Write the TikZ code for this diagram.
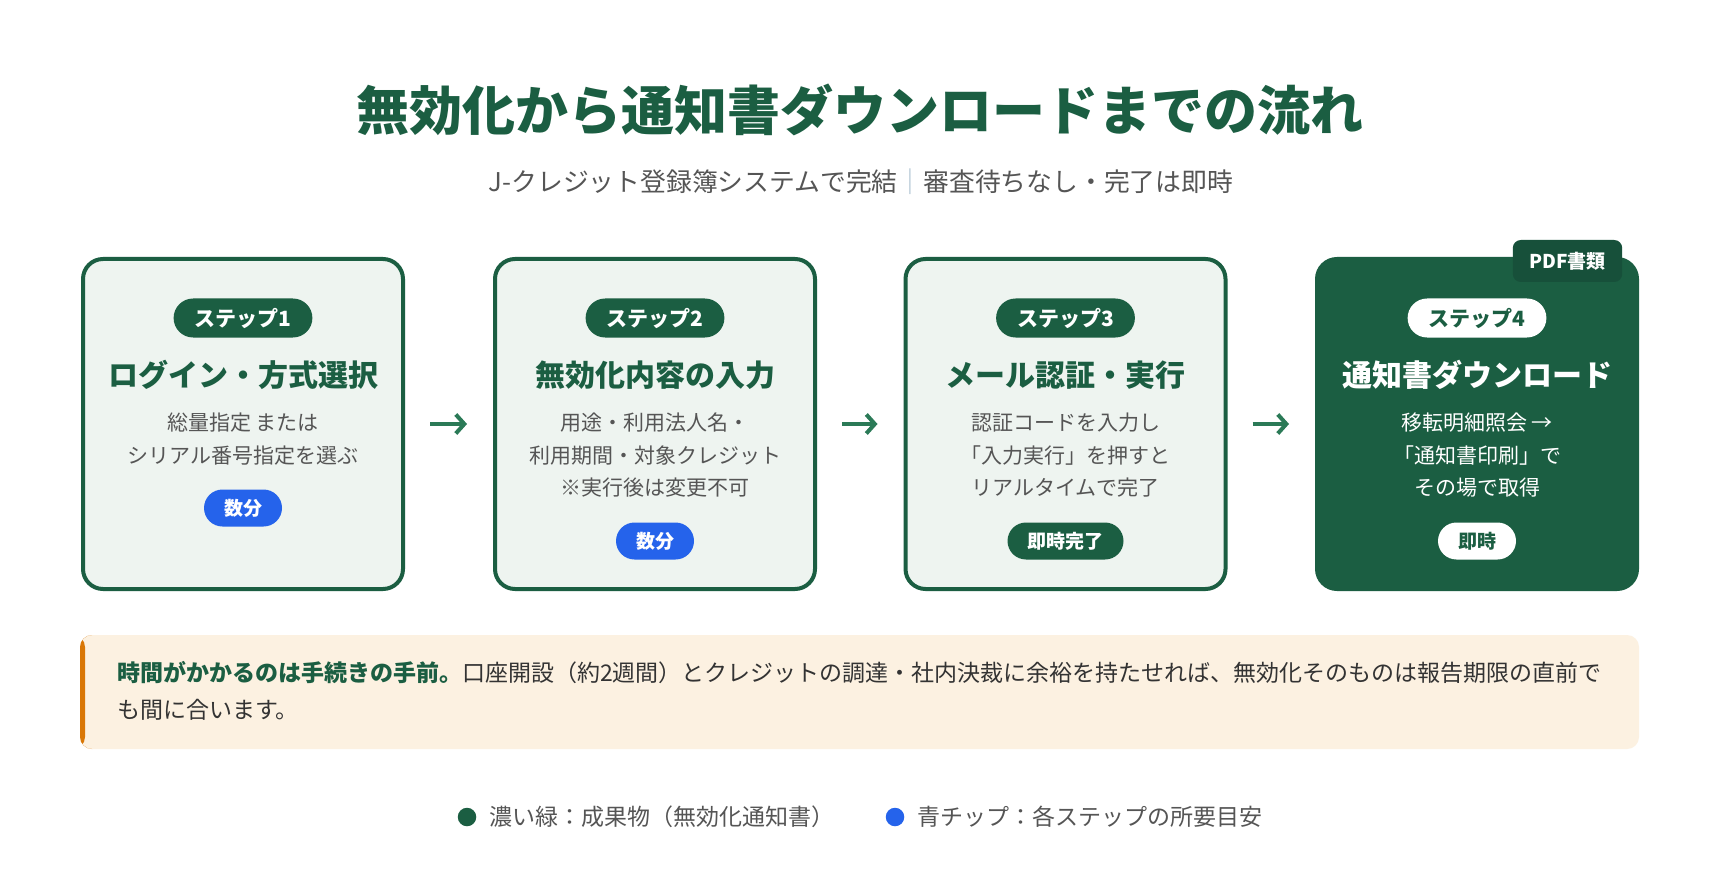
\documentclass[tikz,border=0pt]{standalone}
\usepackage{fontspec}
\setmainfont{Noto Sans CJK JP}
\usepackage{tikz}
\usetikzlibrary{
    positioning,
    arrows.meta
}
\definecolor{dkgreen}{HTML}{1B5E42}
\definecolor{taggreen}{HTML}{17503A}
\definecolor{cardbg}{HTML}{EEF4F0}
\definecolor{arrowgreen}{HTML}{2B7A57}
\definecolor{chipblue}{HTML}{2563EB}
\definecolor{descgray}{HTML}{555555}
\definecolor{notebg}{HTML}{FCF1E1}
\definecolor{noteorange}{HTML}{D97706}
\definecolor{sepblue}{HTML}{A9BFD0}
\definecolor{notegray}{HTML}{333333}
\tikzset{
    card/.style={
        draw=dkgreen,
        line width=4pt,
        fill=cardbg,
        rounded corners=20pt,
        minimum width=320pt,
        minimum height=330pt
    },
    donecard/.style={
        card,
        fill=dkgreen
    },
    badge/.style={
        fill=dkgreen,
        text=white,
        font=\fontsize{21}{21}\selectfont\bfseries,
        rounded corners=19.5pt,
        minimum height=39pt,
        inner xsep=21pt,
        inner ysep=0pt
    },
    cardtitle/.style={
        text=dkgreen,
        font=\fontsize{30}{30}\selectfont\bfseries,
        inner sep=0pt
    },
    desc/.style={
        text=descgray,
        align=center,
        font=\fontsize{21}{32.5}\selectfont,
        inner sep=0pt
    },
    timechip/.style={
        fill=chipblue,
        text=white,
        font=\fontsize{19}{19}\selectfont\bfseries,
        rounded corners=18.5pt,
        minimum height=37pt,
        inner xsep=20pt,
        inner ysep=0pt
    },
    flowarrow/.style={
        draw=arrowgreen,
        line width=4pt,
        -{Straight Barb[length=8.5pt,width=19pt]}
    },
    legend/.style={
        text=descgray,
        font=\fontsize{23}{23}\selectfont,
        inner sep=0pt
    },
    dot/.style={
        circle,
        minimum size=18.5pt,
        inner sep=0pt
    }
}

\begin{document}
\begin{tikzpicture}[
    x=1pt,
    y=-1pt
]

    % 背景
    \fill[white] (0,0) rectangle (1720,890);
    \useasboundingbox (0,0) rectangle (1720,890);

    % タイトル
    \node[text=dkgreen, font=\fontsize{53}{53}\selectfont\bfseries]
        (title) at (860,110) {無効化から通知書ダウンロードまでの流れ};
    \node[text=descgray, font=\fontsize{25.8}{25.8}\selectfont]
        (sub) at (861,182) {J-クレジット登録簿システムで完結{\color{sepblue}｜}審査待ちなし・完了は即時};

    % ステップ1
    \node[card]     (s1) at (243,424) {};
    \node[badge]    (b1) at (243,318) {ステップ1};
    \node[cardtitle] (t1) at (243,375) {ログイン・方式選択};
    \node[desc]     (d1) at (243,439) {総量指定 または\\シリアル番号指定を選ぶ};
    \node[timechip] (c1) at (243,508) {数分};

    % ステップ2
    \node[card]     (s2) at (655,424) {};
    \node[badge]    (b2) at (655,318) {ステップ2};
    \node[cardtitle] (t2) at (655,375) {無効化内容の入力};
    \node[desc]     (d2) at (655,455.5) {用途・利用法人名・\\利用期間・対象クレジット\\※実行後は変更不可};
    \node[timechip] (c2) at (655,541) {数分};

    % ステップ3
    \node[card]     (s3) at (1065.5,424) {};
    \node[badge]    (b3) at (1065.5,318) {ステップ3};
    \node[cardtitle] (t3) at (1065.5,375) {メール認証・実行};
    \node[desc]     (d3) at (1065.5,455.5) {認証コードを入力し\\「入力実行」を押すと\\リアルタイムで完了};
    \node[timechip, fill=dkgreen] (c3) at (1065.5,541) {即時完了};

    % ステップ4（成果物）
    \node[donecard] (s4) at (1477,424) {};
    \node[badge, fill=white, text=dkgreen] (b4) at (1477,318) {ステップ4};
    \node[cardtitle, text=white] (t4) at (1477,375) {通知書ダウンロード};
    \node[desc, text=white] (d4) at (1477,455.5) {移転明細照会 →\\「通知書印刷」で\\その場で取得};
    \node[timechip, fill=white, text=dkgreen] (c4) at (1477,541) {即時};
    \node[fill=taggreen, text=white, font=\fontsize{19}{19}\selectfont\bfseries,
        rounded corners=8pt, minimum height=42pt, inner xsep=16.5pt, inner ysep=0pt]
        (tag) at (1567.5,261) {PDF書類};

    % 矢印
    \draw[flowarrow] ([xshift=25pt]s1.east) -- ([xshift=-26pt]s2.west);
    \draw[flowarrow] ([xshift=25pt]s2.east) -- ([xshift=-26pt]s3.west);
    \draw[flowarrow] ([xshift=25pt]s3.east) -- ([xshift=-26pt]s4.west);

    % 注記
    \node[fill=notebg, rounded corners=12pt, minimum width=1559pt, minimum height=114pt,
        path picture={\fill[noteorange] (path picture bounding box.north west)
            rectangle ([xshift=5pt]path picture bounding box.south west);}]
        (notebg) at (859.5,692) {};
    \node[text=notegray, align=left, anchor=west, inner sep=0pt,
        font=\fontsize{23}{37}\selectfont]
        (note) at (117,690.5) {{\bfseries\color{dkgreen}時間がかかるのは手続きの手前。}口座開設（約2週間）とクレジットの調達・社内決裁に余裕を持たせれば、無効化そのものは報告期限の直前で\\も間に合います。};

    % 凡例
    \node[dot, fill=dkgreen]  (dotg) at (467,817) {};
    \node[legend, right=12.5pt of dotg] (legg) {濃い緑：成果物（無効化通知書）};
    \node[dot, fill=chipblue] (dotb) at (895,817) {};
    \node[legend, right=12.5pt of dotb] (legb) {青チップ：各ステップの所要目安};

\end{tikzpicture}
\end{document}
